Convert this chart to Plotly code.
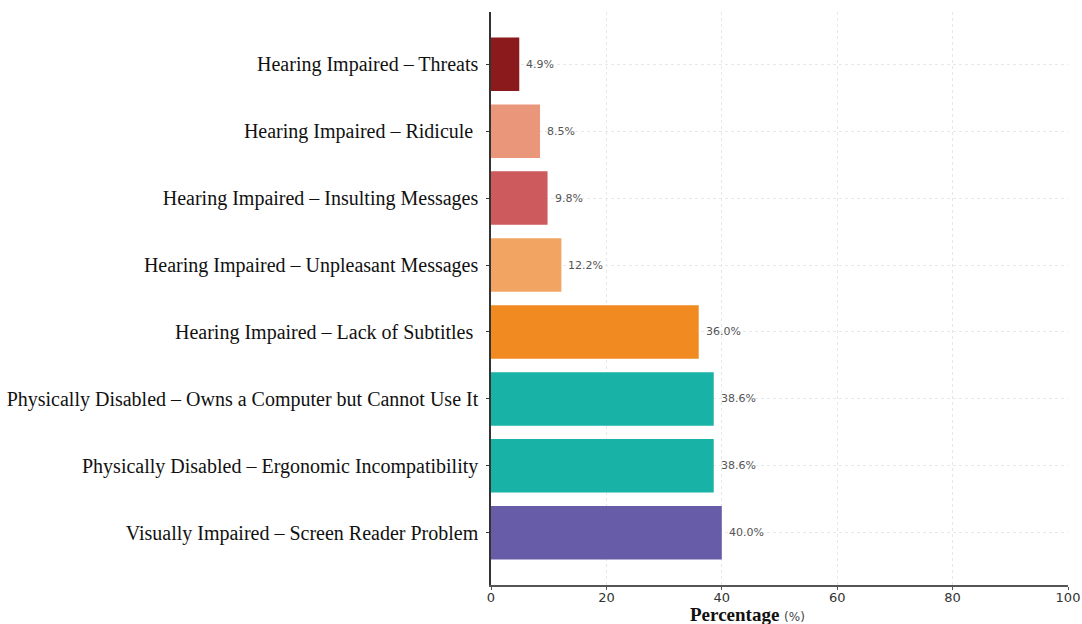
import plotly.graph_objects as go

categories = [
    "Visually Impaired – Screen Reader Problem",
    "Physically Disabled – Ergonomic Incompatibility",
    "Physically Disabled – Owns a Computer but Cannot Use It",
    "Hearing Impaired – Lack of Subtitles\u00a0",
    "Hearing Impaired – Unpleasant Messages",
    "Hearing Impaired – Insulting Messages",
    "Hearing Impaired – Ridicule\u00a0",
    "Hearing Impaired – Threats",
]
values = [40.0, 38.6, 38.6, 36.0, 12.2, 9.8, 8.5, 4.9]
colors = ["#665ca8", "#18b2a6", "#18b2a6", "#f28a22", "#f2a462", "#cd5a5c", "#e9967a", "#8b1a1c"]
x_ticks = [0, 20, 40, 60, 80, 100]

fig = go.Figure()
fig.add_trace(go.Bar(
    x=values, y=list(range(len(categories))), orientation="h",
    marker=dict(color=colors, line=dict(width=0)),
    width=0.8, showlegend=False,
))
for i, v in enumerate(values):
    fig.add_annotation(x=v, y=i, text=f"{v:.1f}%", showarrow=False,
                       xanchor="left", xshift=5,
                       font=dict(family="DejaVu Sans", size=11, color="#555555"))

fig.add_annotation(
    xref="paper", yref="paper", x=0.444, y=-0.052, xanchor="center", yanchor="middle",
    showarrow=False,
    text="<b>Percentage</b> <span style='font-family:DejaVu Sans;font-size:12px;font-weight:normal;color:#444'>(%)</span>",
    font=dict(family="Liberation Serif", size=19, color="#111111"),
)

fig.update_layout(
    width=1082, height=624,
    margin=dict(l=491, r=14, t=12, b=39),
    plot_bgcolor="white", paper_bgcolor="white",
    xaxis=dict(
        range=[0, 100], tickvals=x_ticks, ticktext=[str(t) for t in x_ticks],
        showgrid=True, gridcolor="#e3e8ea", gridwidth=1, griddash="dot",
        showline=True, linecolor="#555555", linewidth=1.5,
        ticks="outside", ticklen=3, tickcolor="#555555",
        ticklabelstandoff=-3,
        tickfont=dict(family="DejaVu Sans", size=13, color="#333333"),
        zeroline=False, automargin=False,
    ),
    yaxis=dict(
        range=[-0.78, 7.78],
        tickvals=list(range(len(categories))), ticktext=categories,
        showgrid=True, gridcolor="#e6e9eb", gridwidth=1, griddash="dot",
        showline=True, linecolor="#333333", linewidth=1.5,
        ticks="outside", ticklen=3, tickcolor="#333333",
        ticklabelstandoff=4,
        tickfont=dict(family="Liberation Serif", size=20, color="#111111"),
        zeroline=False, automargin=False,
    ),
)

fig.write_html("out.html", config={"displayModeBar": False},
               post_script="document.body.style.margin='0';document.body.style.overflow='hidden';")
